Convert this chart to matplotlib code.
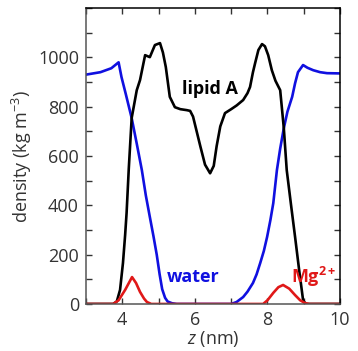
import matplotlib
matplotlib.use("Agg")
import matplotlib.pyplot as plt
from matplotlib.ticker import MultipleLocator

plt.rcParams['font.family'] = ['Open Sans', 'DejaVu Sans']
plt.rcParams['mathtext.fontset'] = 'custom'
plt.rcParams['mathtext.rm'] = 'Open Sans'
plt.rcParams['mathtext.it'] = 'Open Sans:italic'
plt.rcParams['mathtext.bf'] = 'Open Sans:bold'

# --- data ---
water_z = [3.0, 3.4, 3.7, 3.9, 3.98, 4.1, 4.26, 4.4, 4.54, 4.65, 4.76, 4.86, 4.95,
           5.03, 5.1, 5.18, 5.25, 5.37, 5.5, 7.0, 7.15, 7.33, 7.45, 7.6, 7.7,
           7.8, 7.9, 7.99, 8.08, 8.16, 8.26, 8.35, 8.45, 8.55, 8.68, 8.76, 8.84,
           8.98, 9.1, 9.26, 9.45, 9.64, 10.0]
water_rho = [930, 940, 956, 980, 920, 850, 754, 650, 543, 440, 353, 275, 200,
             120, 60, 25, 10, 3, 0, 0, 8, 28, 50, 85, 120,
             166, 215, 272, 340, 409, 543, 630, 713, 780, 840, 895, 940,
             969, 958, 948, 940, 936, 935]

lipid_z = [3.0, 3.75, 3.85, 3.94, 4.02, 4.08, 4.12, 4.18, 4.26, 4.4, 4.49, 4.63,
           4.76, 4.9, 5.04, 5.12, 5.2, 5.31, 5.45, 5.6, 5.78, 5.87, 5.95, 6.05,
           6.15, 6.28, 6.42, 6.52, 6.6, 6.7, 6.83, 7.0, 7.15, 7.33, 7.45, 7.52,
           7.6, 7.66, 7.75, 7.85, 7.93, 8.02, 8.12, 8.22, 8.35, 8.45, 8.53,
           8.65, 8.76, 8.87, 8.98, 9.05, 10.0]
lipid_rho = [0, 0, 10, 57, 166, 280, 369, 548, 754, 867, 908, 1009,
             1001, 1050, 1058, 1020, 961, 840, 798, 790, 786, 783, 760, 700,
             640, 565, 530, 560, 640, 720, 774, 790, 805, 827, 855, 880,
             940, 977, 1030, 1054, 1045, 1009, 948, 905, 867, 713, 543,
             400, 272, 140, 16, 0, 0]

mg_z = [3.0, 3.75, 3.9, 4.08, 4.27, 4.38, 4.49, 4.6, 4.68, 4.8, 7.88, 8.0, 8.16,
        8.3, 8.43, 8.6, 8.76, 8.9, 9.03, 9.15, 10.0]
mg_rho = [0, 0, 15, 57, 109, 85, 49, 22, 8, 0, 0, 15, 45,
          68, 77, 62, 36, 15, 4, 0, 0]

blue = '#1010e0'
red = '#e01818'

fig = plt.figure(figsize=(3.58, 3.51), dpi=100)
ax = fig.add_axes([0.240, 0.134, 0.710, 0.843])

lw = 1.9
ax.plot(water_z, water_rho, color=blue, lw=lw, solid_joinstyle='round')
ax.plot(lipid_z, lipid_rho, color='black', lw=lw, solid_joinstyle='round')
ax.plot(mg_z, mg_rho, color=red, lw=lw, solid_joinstyle='round')

ax.set_xlim(3, 10)
ax.set_ylim(0, 1200)
ax.set_xticks([4, 6, 8, 10])
ax.xaxis.set_minor_locator(MultipleLocator(1))
ax.set_yticks([0, 200, 400, 600, 800, 1000])
ax.yaxis.set_minor_locator(MultipleLocator(100))
ax.tick_params(which='both', direction='in', length=4, width=1.0,
               top=True, right=True, labelsize=13, colors='#333333', pad=5)
for side in ['left', 'bottom']:
    ax.spines[side].set_color('#555555')
for side in ['top', 'right']:
    ax.spines[side].set_color('black')
for s in ax.spines.values():
    s.set_linewidth(1.1)

ax.set_xlabel(r'$\mathit{z}$ (nm)', fontsize=13, color='#333333', labelpad=0)
ax.set_ylabel(r'density (kg m$^{-3}$)', fontsize=13, color='#333333', labelpad=3)

ax.text(6.42, 870, 'lipid A', color='black', fontsize=13, fontweight='bold',
        ha='center', va='center')
ax.text(5.96, 110, 'water', color=blue, fontsize=13, fontweight='bold',
        ha='center', va='center')
ax.text(9.26, 85, r'$\mathbf{Mg}^{\mathbf{2+}}$', color=red, fontsize=13,
        ha='center', va='baseline')

fig.savefig('out.png', dpi=100)
